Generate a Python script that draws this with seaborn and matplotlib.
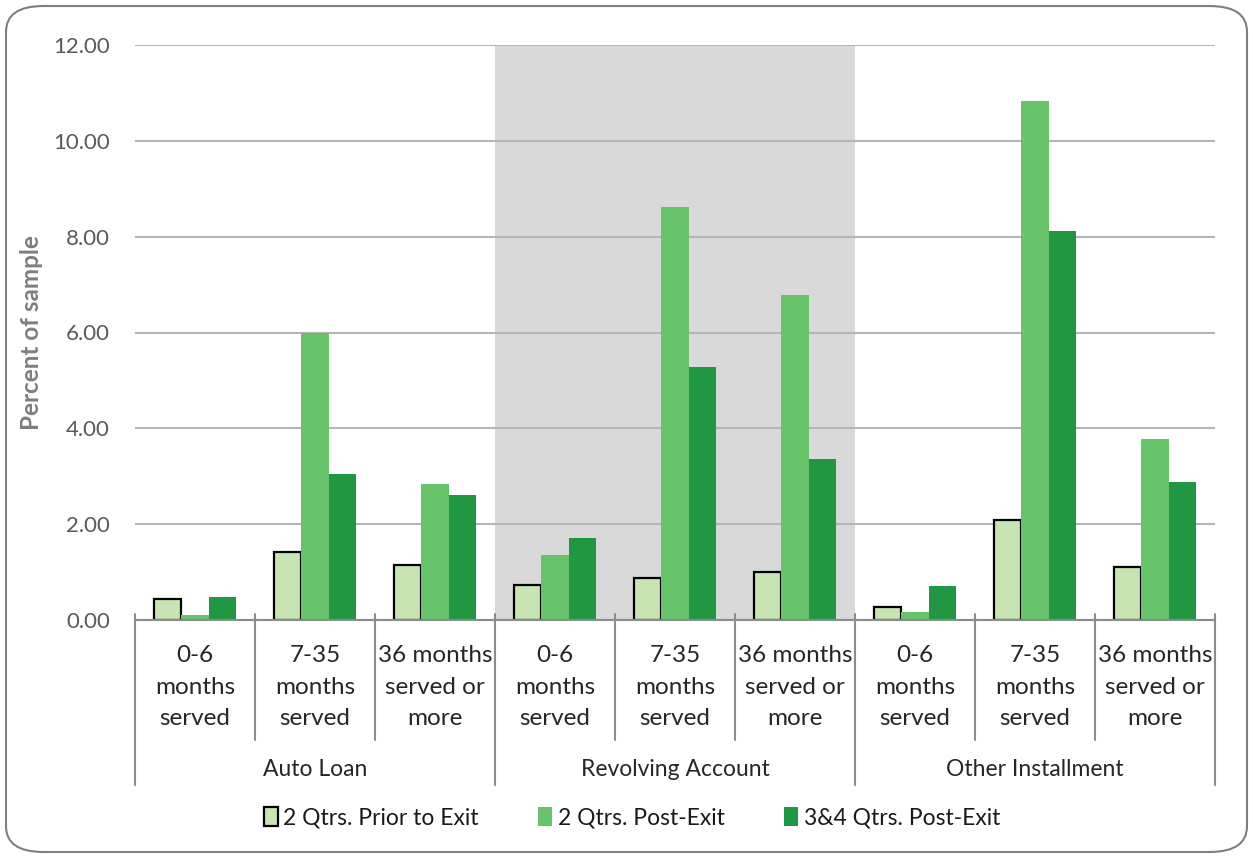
import numpy as np
import pandas as pd
import matplotlib.pyplot as plt
import seaborn as sns
from matplotlib.patches import FancyBboxPatch
import matplotlib.transforms as mtransforms

# data
groups = ["Auto Loan", "Revolving Account", "Other Installment"]
served = ["0-6\nmonths\nserved", "7-35\nmonths\nserved", "36 months\nserved or\nmore"]
periods = ["2 Qtrs. Prior to Exit", "2 Qtrs. Post-Exit", "3&4 Qtrs. Post-Exit"]

prior_exit = [0.44, 1.41, 1.15, 0.74, 0.88, 1.01, 0.28, 2.09, 1.11]
post_exit_2q = [0.11, 5.99, 2.83, 1.36, 8.62, 6.79, 0.17, 10.83, 3.77]
post_exit_34q = [0.48, 3.05, 2.60, 1.71, 5.27, 3.36, 0.70, 8.12, 2.88]

colors = ["#c8e4b3", "#66c36a", "#219643"]

slots = [g + "|" + s for g in groups for s in served]
df = pd.DataFrame({
    "slot": slots * 3,
    "period": np.repeat(periods, len(slots)),
    "value": prior_exit + post_exit_2q + post_exit_34q,
})

sns.set_style("white")
plt.rcParams["font.family"] = ["Lato", "DejaVu Sans"]

fig = plt.figure(figsize=(12.53, 8.58), dpi=100)
ax = fig.add_axes([135 / 1253, 1 - 620 / 858, 1080 / 1253, 575 / 858])

# rounded frame around the whole chart
frame = FancyBboxPatch((6 / 1253, 6 / 858), 1 - 12 / 1253, 1 - 12 / 858,
                       boxstyle="round,pad=0,rounding_size=0.03",
                       transform=fig.transFigure, facecolor="none",
                       edgecolor="#7f7f7f", linewidth=1.5, zorder=-5)
fig.patches.append(frame)

ax.axvspan(2.5, 5.5, color="#d9d9d9", zorder=0, lw=0)

sns.barplot(data=df, x="slot", y="value", hue="period", order=slots,
            hue_order=periods, palette=colors, saturation=1, width=0.68,
            ax=ax, zorder=2)

for k, cont in enumerate(ax.containers):
    for bar in cont:
        if k == 0:
            bar.set_edgecolor("black")
            bar.set_linewidth(1.6)
        else:
            bar.set_linewidth(0)

handles, labels = ax.get_legend_handles_labels()
ax.legend_.remove()
for k, h in enumerate(handles):
    if k == 0:
        h.set_edgecolor("black")
        h.set_linewidth(1.6)
    else:
        h.set_linewidth(0)
fig.legend(handles, labels, loc="center", bbox_to_anchor=(632 / 1253, 1 - 818 / 858),
           ncol=3, frameon=False, fontsize=16.5, handlelength=0.6, handleheight=0.9,
           handletextpad=0.25, columnspacing=2.6, labelcolor="#1a1a1a")

ax.set_xlim(-0.5, 8.5)
ax.set_ylim(0, 12)
ax.set_yticks(np.arange(0, 13, 2))
ax.set_yticklabels([f"{v:.2f}" for v in np.arange(0, 13, 2)], fontsize=16, color="#595959")
ax.tick_params(axis="y", length=0, pad=18)
ax.yaxis.grid(True, color="#b5b5b5", linewidth=1.5, zorder=1)
ax.set_axisbelow(True)
ax.set_xticks([])
ax.set_xlabel("")
ax.set_ylabel("Percent of sample", fontsize=17.5, fontweight="bold", color="#7f7f7f")
ax.yaxis.set_label_coords(-0.085, 0.5)

for s in ["top", "right", "left"]:
    ax.spines[s].set_visible(False)
ax.spines["bottom"].set_color("#8c8c8c")
ax.spines["bottom"].set_linewidth(1.5)

trans = mtransforms.blended_transform_factory(ax.transData, ax.transAxes)
px = 1 / 575  # one pixel in axes-y units

# separators under the axis
for i in range(10):
    xb = i - 0.5
    low = -165 * px if i % 3 == 0 else -120 * px
    ax.plot([xb, xb], [6 * px, low], transform=trans, color="#8c8c8c", lw=1.5,
            clip_on=False, zorder=3)

for i, s in enumerate(slots):
    ax.text(i, -67 * px, s.split("|")[1], transform=trans, ha="center", va="center",
            fontsize=17.5, color="#262626", linespacing=1.6)

for j, g in enumerate(groups):
    ax.text(3 * j + 1, -150 * px, g, transform=trans, ha="center", va="center",
            fontsize=16.5, color="#262626")

fig.savefig("out.png", dpi=100, facecolor="white")
